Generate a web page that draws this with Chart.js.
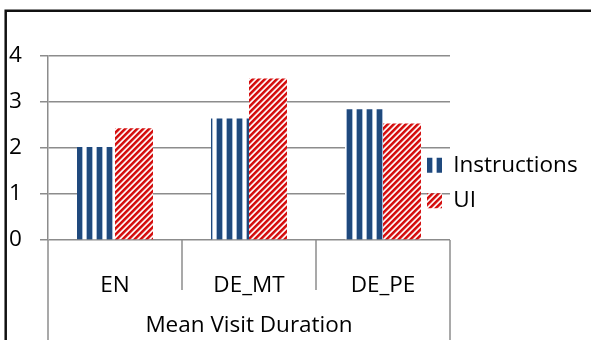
<!DOCTYPE html>
<html>
<head>
<meta charset="utf-8">
<script src="https://cdn.jsdelivr.net/npm/chart.js@4/dist/chart.umd.min.js"></script>
<style>
  html, body { margin: 0; padding: 0; background: #fff; }
  #wrap { width: 591px; height: 340px; }
</style>
</head>
<body>
<div id="wrap"><canvas id="chart"></canvas></div>
<script>
const categories = ['EN', 'DE_MT', 'DE_PE'];
const instructions = [2.02, 2.64, 2.84];
const ui = [2.43, 3.51, 2.53];
const yTicks = [0, 1, 2, 3, 4];
const axisTitle = 'Mean Visit Duration';

const FONT = { family: 'Open Sans', size: 22.5 };
const GRID = '#8c8c8c';

let canvas = document.getElementById('chart');
let ctx = canvas.getContext('2d');

// vertical dark blue stripes
let makeBluePattern = () => {
    const tile = document.createElement('canvas');
    tile.width = 10; tile.height = 10;
    const g = tile.getContext('2d');
    g.fillStyle = '#fff'; g.fillRect(0, 0, 10, 10);
    g.fillStyle = '#1f497d'; g.fillRect(0, 0, 5, 10);
    g.fillStyle = '#a9bcd6'; g.fillRect(5, 0, 1, 10); g.fillRect(9, 0, 1, 10);
    const p = ctx.createPattern(tile, 'repeat');
    p.setTransform(new DOMMatrix([1, 0, 0, 1, 7, 0]));
    return p;
};

// red upward diagonal stripes
let makeRedPattern = () => {
    const tile = document.createElement('canvas');
    tile.width = 6; tile.height = 6;
    const g = tile.getContext('2d');
    const shades = ['#d40d0d', '#d40d0d', '#d92222', '#eea0a0', '#fff', '#f2b4b4'];
    for (let x = 0; x < 6; x++) {
        for (let y = 0; y < 6; y++) {
            g.fillStyle = shades[(x + y) % 6];
            g.fillRect(x, y, 1, 1);
        }
    }
    return ctx.createPattern(tile, 'repeat');
};

// black outer frame (left and top edges visible)
let framePlugin = {
    id: 'frame',
    beforeDraw: (chart) => {
        const c = chart.ctx;
        c.save();
        c.strokeStyle = '#111';
        c.lineWidth = 2.5;
        c.beginPath();
        c.moveTo(5.7, chart.height);
        c.lineTo(5.7, 10.7);
        c.lineTo(chart.width, 10.7);
        c.stroke();
        c.restore();
    }
};

// category dividers below the axis
let dividerPlugin = {
    id: 'dividers',
    afterDraw: (chart) => {
        const x = chart.scales.x;
        const n = categories.length;
        const c = chart.ctx;
        c.save();
        c.strokeStyle = GRID;
        c.lineWidth = 1.5;
        for (let i = 0; i <= n; i++) {
            const px = x.left + i * x.width / n;
            const end = (i === 0 || i === n) ? chart.height : chart.chartArea.bottom + 50;
            c.beginPath();
            c.moveTo(px, chart.chartArea.bottom);
            c.lineTo(px, end);
            c.stroke();
        }
        c.restore();
    }
};

// legend sits slightly over the plot edge, a bit below centre
let legendShiftPlugin = {
    id: 'legendShift',
    afterLayout: (chart) => {
        const lg = chart.legend;
        lg.left = chart.chartArea.right - 36;
        lg.right = chart.width;
        lg.width = lg.right - lg.left;
        lg.top -= 15;
        lg.bottom -= 15;
    }
};

let chart = new Chart(ctx, {
    type: 'bar',
    data: {
        labels: categories,
        datasets: [{
            label: 'Instructions',
            data: instructions,
            backgroundColor: makeBluePattern(),
            borderWidth: 0
        }, {
            label: 'UI',
            data: ui,
            backgroundColor: makeRedPattern(),
            borderWidth: 0
        }]
    },
    options: {
        responsive: true,
        maintainAspectRatio: false,
        animation: false,
        layout: { padding: { left: 9, top: 56, right: 21, bottom: 0 } },
        datasets: { bar: { categoryPercentage: 0.567, barPercentage: 1 } },
        scales: {
            x: {
                grid: { display: false },
                border: { display: false },
                ticks: { padding: 24, color: '#000', font: FONT, maxRotation: 0 },
                title: { display: true, text: axisTitle, color: '#000', font: FONT, padding: { top: 0, bottom: 1 } },
                afterFit: (s) => { s.height = 100; }
            },
            y: {
                min: 0,
                max: 4,
                afterBuildTicks: (s) => { s.ticks = yTicks.map(v => ({ value: v })); },
                ticks: { crossAlign: 'far', color: '#000', font: FONT },
                grid: { color: GRID, lineWidth: 1.5, tickLength: 8 },
                border: { color: GRID, width: 1.5 },
                afterFit: (s) => { s.width = 39; }
            }
        },
        plugins: {
            legend: {
                position: 'right',
                maxWidth: 120,
                labels: { boxWidth: 15, boxHeight: 15, padding: 13, color: '#000', font: FONT }
            },
            tooltip: { enabled: false }
        }
    },
    plugins: [framePlugin, dividerPlugin, legendShiftPlugin]
});
</script>
</body>
</html>
